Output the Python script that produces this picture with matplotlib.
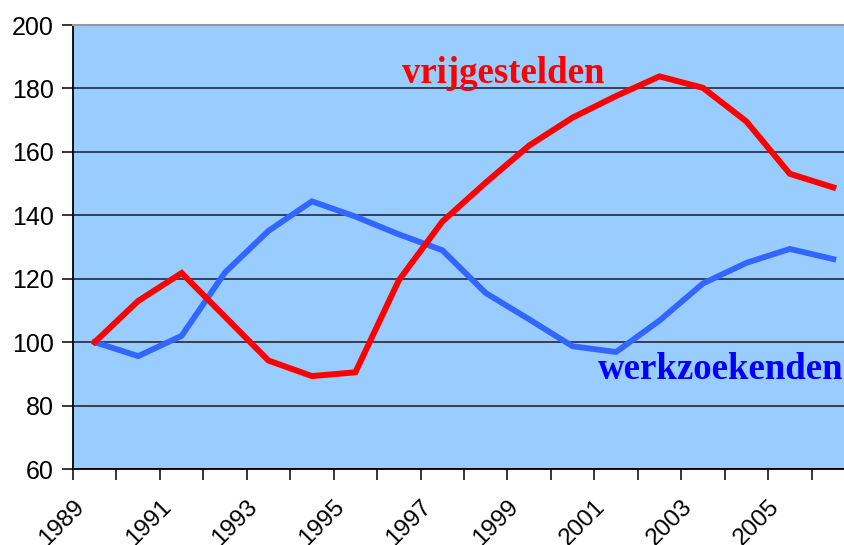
"""
vrijgestelden vs werkzoekenden, index 1989 = 100
"""

import matplotlib
matplotlib.use("Agg")
from matplotlib import pyplot as plt
from matplotlib import transforms

years = list(range(1989, 2007))
vrijgestelden = [100, 113, 121.8, 108, 94.2, 89.3, 90.5, 119.5, 138, 150.3,
                 162, 170.8, 177.6, 183.8, 180.2, 169.6, 153.1, 148.8]
werkzoekenden = [100, 95.6, 102, 122, 135.1, 144.4, 139.6, 134, 129, 115.5,
                 107.2, 98.7, 96.9, 106.8, 118.5, 125, 129.4, 126.2]
year_labels = [str(y) if (y - 1989) % 2 == 0 else "" for y in years]
y_ticks = [60, 80, 100, 120, 140, 160, 180, 200]

plt.rcParams["font.family"] = "Liberation Sans"

fig = plt.figure(figsize=(8.44, 5.45), dpi=100)
ax = fig.add_axes([0.0865, 0.1394, 0.9265, 0.8147])
ax.set_facecolor("#99CCFF")

x = list(range(len(years)))
ax.plot(x, werkzoekenden, color="#3366FF", lw=4.2, solid_joinstyle="miter", zorder=3)
ax.plot(x, vrijgestelden, color="#FF0000", lw=4.3, solid_joinstyle="miter", zorder=4)

ax.set_xlim(-0.5, len(years) - 0.5)
ax.set_ylim(60, 200)
ax.set_yticks(y_ticks)
ax.set_yticklabels([str(v) for v in y_ticks])
ax.yaxis.grid(True, color="#1a1a2a", lw=1.1)
ax.set_axisbelow(True)

ax.tick_params(axis="both", direction="out", length=8, width=1.1, color="black")
ax.tick_params(axis="y", pad=6, labelsize=18)
ax.tick_params(axis="x", pad=11, labelsize=17.5)

ax.set_xticks([i - 0.5 for i in x])
ax.set_xticklabels(year_labels, rotation=45, ha="right", va="top")
# labels sit a little right of their tick, like the original
shift = transforms.ScaledTranslation(15.5 / 100, 0, fig.dpi_scale_trans)
for lab in ax.get_xticklabels():
    lab.set_transform(lab.get_transform() + shift)

ax.spines["left"].set_color("black")
ax.spines["left"].set_linewidth(1.3)
ax.spines["bottom"].set_color("black")
ax.spines["bottom"].set_linewidth(1.3)
ax.spines["top"].set_color("#999999")
ax.spines["top"].set_linewidth(1.5)
ax.spines["right"].set_visible(False)

ax.text(7.07, 181.7, "vrijgestelden", color="#FF0000", fontsize=26.5,
        fontweight="bold", family="Liberation Serif", va="baseline", ha="left",
        zorder=5)
ax.text(11.58, 88.5, "werkzoekenden", color="#0000FF", fontsize=26.5,
        fontweight="bold", family="Liberation Serif", va="baseline", ha="left",
        zorder=5, clip_on=False)

fig.savefig("out.png", dpi=100)
